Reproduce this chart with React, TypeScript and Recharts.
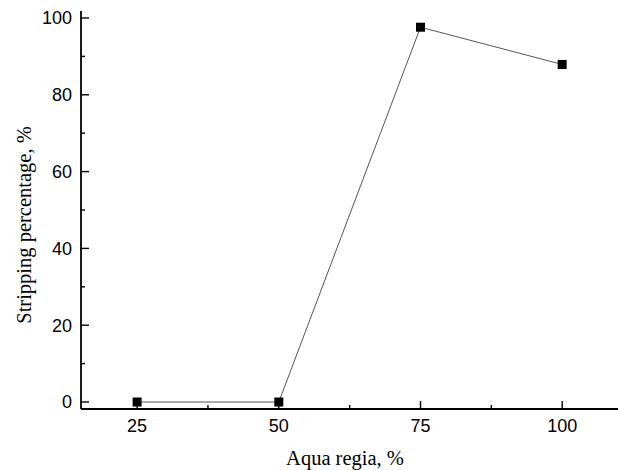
import React from "react";
import { LineChart, Line, XAxis, YAxis, Label } from "recharts";

// Stripping percentage vs. aqua regia concentration
const aquaRegia = [25, 50, 75, 100];
const stripping = [0, 0, 97.6, 87.9];

const xTicks = [25, 37.5, 50, 62.5, 75, 87.5, 100];
const yTicks = [0, 10, 20, 30, 40, 50, 60, 70, 80, 90, 100];

const data = aquaRegia.map((c, i) => ({ c, s: stripping[i] }));

const tickFont = "'Liberation Sans', Arial, sans-serif";
const titleFont = "'Liberation Serif', 'Times New Roman', serif";

// inward ticks, labels only on the major ones
const YTick = (props: any) => {
  const { x, y, payload } = props;
  const major = payload.value % 20 === 0;
  return (
    <g>
      <line x1={x} x2={x + (major ? 8 : 4)} y1={y} y2={y} stroke="#000" strokeWidth={1.4} />
      {major && (
        <text x={x - 9} y={y} dy="0.36em" textAnchor="end" fontFamily={tickFont} fontSize={18} fill="#000">
          {payload.value}
        </text>
      )}
    </g>
  );
};

const XTick = (props: any) => {
  const { x, y, payload } = props;
  const major = payload.value % 25 === 0;
  return (
    <g>
      <line x1={x} x2={x} y1={y} y2={y - (major ? 8 : 4)} stroke="#000" strokeWidth={1.4} />
      {major && (
        <text x={x} y={y + 23} textAnchor="middle" fontFamily={tickFont} fontSize={18} fill="#000">
          {payload.value}
        </text>
      )}
    </g>
  );
};

const Square = (props: any) => {
  const { cx, cy, index } = props;
  return <rect key={index} x={cx - 4.5} y={cy - 4.5} width={9} height={9} fill="#000" />;
};

export default function App() {
  return (
    <div style={{ position: "absolute", left: 0, top: 0, width: 618, height: 470, overflow: "hidden", background: "#fff" }}>
      <LineChart width={620} height={470} data={data} margin={{ top: 11, right: 0, bottom: 0, left: 0 }}>
        <XAxis
          dataKey="c"
          type="number"
          domain={[15.1, 110.2]}
          ticks={xTicks}
          interval={0}
          height={61}
          tickSize={0}
          tickMargin={0}
          tick={<XTick />}
          tickLine={false}
          axisLine={{ stroke: "#000", strokeWidth: 1.8 }}
        >
          <Label
            content={() => (
              <text x={345} y={465} textAnchor="middle" fontFamily={titleFont} fontSize={20.5} fill="#000">
                Aqua regia, %
              </text>
            )}
          />
        </XAxis>
        <XAxis xAxisId="top" orientation="top" type="number" dataKey="c" domain={[15.1, 110.2]} height={0}
          tick={false} tickLine={false} axisLine={{ stroke: "#000", strokeWidth: 1.8 }} />
        <YAxis
          type="number"
          domain={[-1.82, 101.82]}
          ticks={yTicks}
          interval={0}
          width={81}
          tickSize={0}
          tickMargin={0}
          tick={<YTick />}
          tickLine={false}
          axisLine={{ stroke: "#000", strokeWidth: 1.8 }}
        >
          <Label
            content={() => (
              <text
                x={31}
                y={225}
                transform="rotate(-90 31 225)"
                textAnchor="middle"
                fontFamily={titleFont}
                fontSize={20.5}
                fill="#000"
              >
                Stripping percentage, %
              </text>
            )}
          />
        </YAxis>
        <Line
          type="linear"
          dataKey="s"
          stroke="#555"
          strokeWidth={1}
          dot={<Square />}
          activeDot={false}
          isAnimationActive={false}
        />
      </LineChart>
    </div>
  );
}
